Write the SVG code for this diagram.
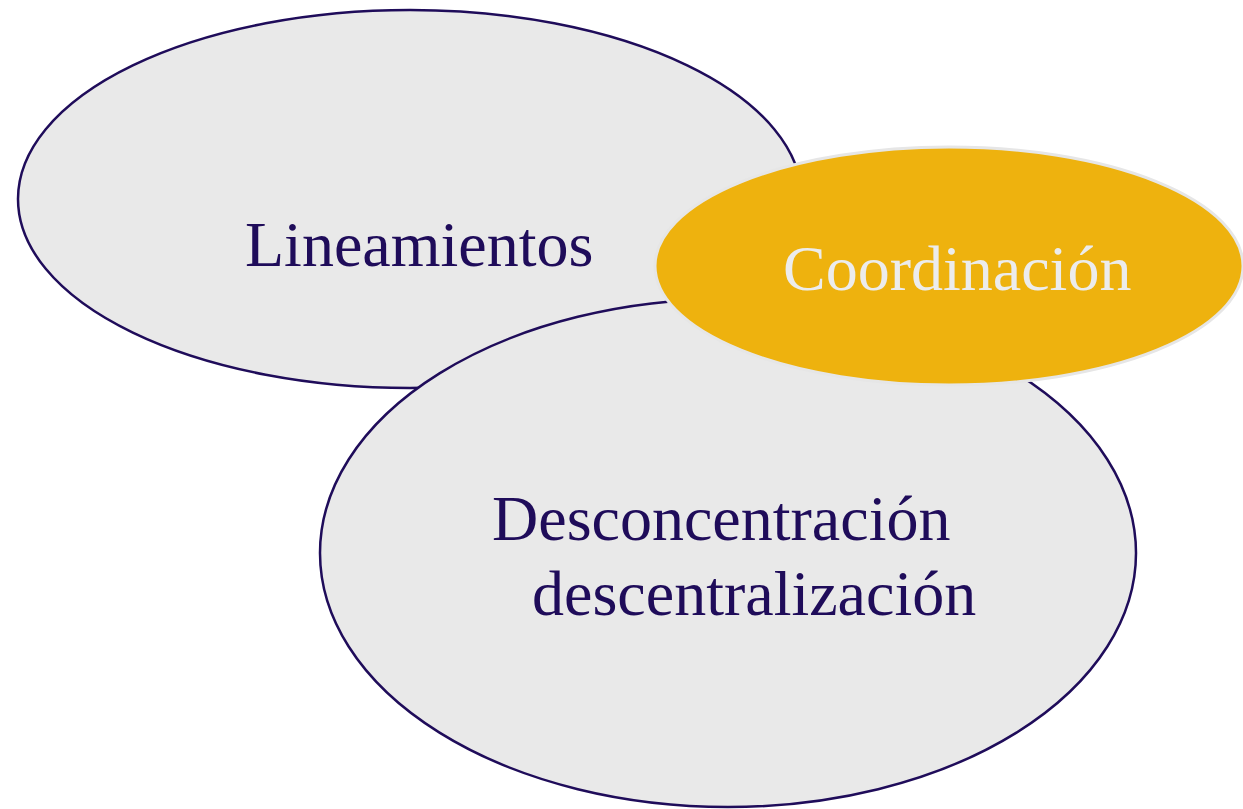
<svg xmlns="http://www.w3.org/2000/svg" width="1243" height="809" viewBox="0 0 1243 809">
<style>
.gray{fill:#e9e9e9;stroke:#1f0c5a;stroke-width:2.5}
.gold{fill:#eeb20e;stroke:#e6e6e6;stroke-width:3}
.t{font-family:"Liberation Serif","Times New Roman",serif;font-size:64px;fill:#1f0c5a}
.tl{font-family:"Liberation Serif","Times New Roman",serif;font-size:64px;fill:#ececec}
</style>
<rect width="1243" height="809" fill="#ffffff"/>
<g id="lineamientos">
<ellipse class="gray" cx="410" cy="199" rx="392" ry="189"/>
<text class="t" x="245" y="266">Lineamientos</text>
</g>
<g id="desconcentracion">
<ellipse class="gray" cx="728" cy="553" rx="408" ry="254"/>
<text class="t" x="492" y="540">Desconcentración</text>
<text class="t" x="532" y="615">descentralización</text>
</g>
<g id="coordinacion">
<ellipse class="gold" cx="949" cy="266" rx="294" ry="119"/>
<text class="tl" x="783" y="290">Coordinación</text>
</g>
<g id="connectors"></g>
</svg>
